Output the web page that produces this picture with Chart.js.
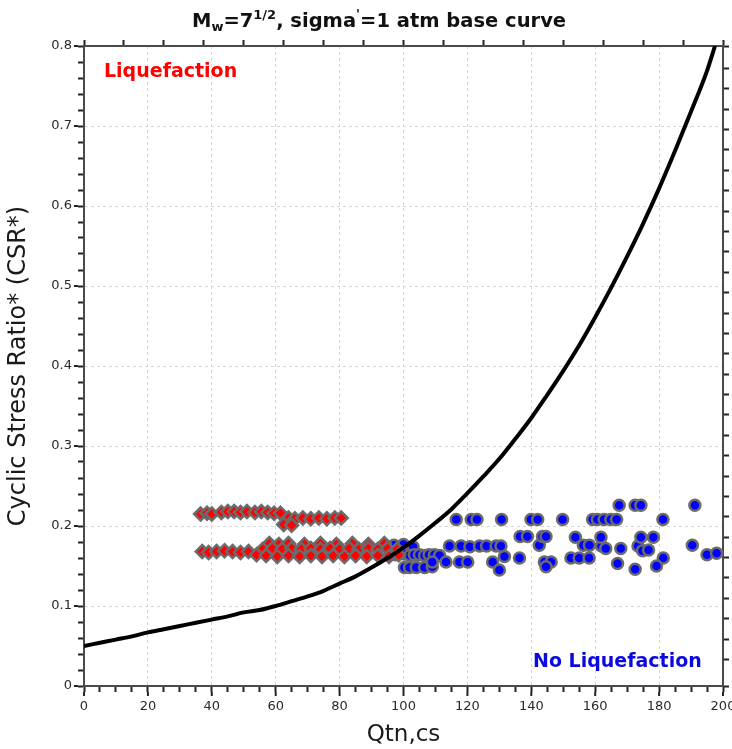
<!DOCTYPE html>
<html>
<head>
<meta charset="utf-8">
<script src="https://cdn.jsdelivr.net/npm/chart.js@4.4.1/dist/chart.umd.min.js"></script>
<style>
  body { margin: 0; background: #fff; }
  canvas { display: block; }
</style>
</head>
<body>
<canvas id="c" width="732" height="749"></canvas>
<script>
// base curve
const curveQ = [0, 5, 10, 15, 20, 25, 30, 35, 40, 45, 50, 55, 60, 65, 70, 75, 80, 85, 90, 95,
  100, 105, 110, 115, 120, 125, 130, 135, 140, 145, 150, 155, 160, 165, 170, 175, 180, 185, 190, 195, 197.5];
const curveCSR = [0.050, 0.054, 0.058, 0.062, 0.067, 0.071, 0.075, 0.079, 0.083, 0.087, 0.092, 0.095, 0.100, 0.106, 0.112, 0.119, 0.128, 0.137, 0.148, 0.160,
  0.173, 0.188, 0.204, 0.221, 0.241, 0.262, 0.284, 0.309, 0.335, 0.364, 0.394, 0.426, 0.461, 0.498, 0.537, 0.578, 0.622, 0.669, 0.718, 0.769, 0.800];

// liquefied cases (red diamonds)
const liqQ = [
  36.5, 38.5, 40, 43, 45, 47, 49, 51, 53.5, 55.5, 57.5, 59.5, 61.5,
  64, 66, 68.5, 71, 73.5, 76, 78.5, 80.5,
  62.5, 65,
  37, 39, 41.5, 44, 46.5, 49, 51.5,
  58, 61, 64, 69, 74, 79, 84, 89, 94,
  56, 59, 62, 65, 68, 71, 74, 77, 80, 83, 86, 89, 92, 95, 98,
  54, 57, 60.5, 64, 67.5, 71, 74.5, 78, 81.5, 85, 88.5, 92, 95.5, 98.5
];
const liqCSR = [
  0.215, 0.216, 0.215, 0.217, 0.218, 0.218, 0.217, 0.218, 0.217, 0.218, 0.217, 0.216, 0.216,
  0.210, 0.209, 0.210, 0.209, 0.210, 0.209, 0.210, 0.210,
  0.202, 0.201,
  0.168, 0.167, 0.168, 0.169, 0.168, 0.167, 0.168,
  0.178, 0.177, 0.178, 0.177, 0.178, 0.177, 0.178, 0.177, 0.178,
  0.171, 0.172, 0.171, 0.172, 0.171, 0.172, 0.171, 0.172, 0.171, 0.172, 0.171, 0.172, 0.171, 0.172, 0.171,
  0.164, 0.163, 0.162, 0.163, 0.162, 0.163, 0.162, 0.163, 0.162, 0.163, 0.162, 0.163, 0.162, 0.164
];

// non-liquefied cases (blue circles)
const noLiqQ = [
  97, 100, 103,
  97.5, 100.3, 102, 103.4, 105, 106.6, 108, 109.7, 111.3,
  100.3, 101.9, 104, 106.6, 109, 109, 113.3,
  116.5, 121.2, 123, 130.7, 139.9, 142, 149.8, 159.2, 160.7, 162.8, 164.9, 166.7, 181.2,
  167.5, 172.5, 174.3, 191.2,
  114.4, 118, 120.8, 123.8, 126, 129, 130.5, 142.5, 156.3, 158.2, 162, 173.4, 190.4,
  163.3, 168, 174.8, 176.7,
  136.5, 138.8, 143.5, 144.6, 153.8, 161.8, 174.3, 178.2,
  136.3, 152.4, 155, 158.1, 181.3, 195, 198, 131.6,
  117.5, 120.1, 127.9, 144.1, 146.2,
  144.6, 130, 167, 179.2, 172.5
];
const noLiqCSR = [
  0.176, 0.177, 0.174,
  0.164, 0.165, 0.163, 0.164, 0.164, 0.163, 0.164, 0.164, 0.163,
  0.148, 0.148, 0.148, 0.148, 0.149, 0.155, 0.155,
  0.208, 0.208, 0.208, 0.208, 0.208, 0.208, 0.208, 0.208, 0.208, 0.208, 0.208, 0.208, 0.208,
  0.226, 0.226, 0.226, 0.226,
  0.175, 0.175, 0.174, 0.175, 0.175, 0.175, 0.175, 0.176, 0.176, 0.176, 0.175, 0.175, 0.176,
  0.172, 0.172, 0.169, 0.170,
  0.187, 0.187, 0.187, 0.187, 0.186, 0.186, 0.186, 0.186,
  0.160, 0.160, 0.160, 0.160, 0.160, 0.164, 0.166, 0.162,
  0.155, 0.155, 0.155, 0.155, 0.155,
  0.149, 0.145, 0.153, 0.150, 0.146
];

const xMajorStep = 20;
const yMajorStep = 0.1;

const toPoints = (xs, ys) => xs.map((x, i) => ({ x: x, y: ys[i] }));
const isMajor = (v, step) => Math.abs(v / step - Math.round(v / step)) < 1e-6;

const GRID = '#d6d6d6';
const AXIS = '#4a4a4a';
const TICK = '#222';
const LABEL = '#2a2a2a';

// keep the plot box fixed: no extra room for the edge tick labels
const fixPad = s => { s.paddingLeft = 0; s.paddingRight = 0; s.paddingTop = 0; s.paddingBottom = 0; };

// title with sub/superscripts + the two region labels
const textPlugin = {
  id: 'textPlugin',
  afterDraw(chart) {
    const ctx = chart.ctx;
    const area = chart.chartArea;
    ctx.save();
    ctx.textBaseline = 'alphabetic';
    ctx.textAlign = 'left';

    // major tick extensions
    const xs = chart.scales.x, ys = chart.scales.y;
    ctx.strokeStyle = TICK;
    ctx.lineWidth = 2;
    xs.ticks.forEach(t => {
      if (!isMajor(t.value, xMajorStep)) return;
      const px = xs.getPixelForValue(t.value);
      ctx.beginPath(); ctx.moveTo(px, area.bottom + 6); ctx.lineTo(px, area.bottom + 10); ctx.stroke();
    });
    ys.ticks.forEach(t => {
      if (!isMajor(t.value, yMajorStep)) return;
      const py = ys.getPixelForValue(t.value);
      ctx.beginPath(); ctx.moveTo(area.left - 6, py); ctx.lineTo(area.left - 10, py); ctx.stroke();
    });

    const parts = [
      ['M', 19.5, 0], ['w', 13, 4], ['=7', 19.5, 0], ['1/2', 13, -8],
      [', sigma', 19.5, 0], ["'", 13, -9], ['=1 atm base curve', 19.5, 0]
    ];
    let x = 192;
    ctx.fillStyle = '#111';
    parts.forEach(p => {
      ctx.font = 'bold ' + p[1] + 'px "DejaVu Sans"';
      ctx.fillText(p[0], x, 27 + p[2]);
      x += ctx.measureText(p[0]).width;
    });

    ctx.font = 'bold 19px "DejaVu Sans"';
    ctx.fillStyle = '#ff0000';
    ctx.fillText('Liquefaction', area.left + 20, area.top + 31);
    ctx.fillStyle = '#0a0ae0';
    ctx.fillText('No Liquefaction', area.left + 449, area.bottom - 19);
    ctx.restore();
  }
};

new Chart(document.getElementById('c'), {
  type: 'scatter',
  data: {
    datasets: [
      {
        label: 'base curve',
        data: toPoints(curveQ, curveCSR),
        showLine: true,
        borderColor: '#000',
        borderWidth: 4,
        pointRadius: 0,
        cubicInterpolationMode: 'monotone',
        order: 0
      },
      {
        label: 'Liquefaction',
        data: toPoints(liqQ, liqCSR),
        pointStyle: 'rectRot',
        pointRadius: 6.5,
        backgroundColor: '#ff0000',
        borderColor: '#6b6b6b',
        borderWidth: 2.5,
        order: 1
      },
      {
        label: 'No Liquefaction',
        data: toPoints(noLiqQ, noLiqCSR),
        pointStyle: 'circle',
        pointRadius: 5.5,
        backgroundColor: '#0000ff',
        borderColor: '#6b6b6b',
        borderWidth: 2.5,
        order: 2
      }
    ]
  },
  options: {
    responsive: false,
    animation: false,
    devicePixelRatio: 1,
    layout: { padding: 0 },
    plugins: {
      legend: { display: false },
      tooltip: { enabled: false }
    },
    scales: {
      x: {
        type: 'linear',
        position: 'bottom',
        min: 0, max: 200,
        afterFit: s => { s.height = 63; fixPad(s); },
        border: { display: true, color: AXIS, width: 2, dash: [3, 3] },
        grid: {
          color: c => isMajor(c.tick.value, xMajorStep) && c.tick.value > 0 && c.tick.value < 200 ? GRID : 'rgba(0,0,0,0)',
          lineWidth: 1,
          tickColor: TICK, tickWidth: 2, tickLength: 6, tickBorderDash: []
        },
        ticks: {
          stepSize: 5, autoSkip: false, maxRotation: 0, padding: 7,
          color: LABEL, font: { family: 'DejaVu Sans', size: 13 },
          callback: v => isMajor(v, xMajorStep) ? String(v) : ''
        },
        title: {
          display: true, text: 'Qtn,cs', color: '#1a1a1a',
          font: { family: 'DejaVu Sans', size: 23 }, padding: { top: 0, bottom: 0 }
        }
      },
      x2: {
        type: 'linear',
        position: 'top',
        min: 0, max: 16,
        afterFit: s => { s.height = 46; fixPad(s); },
        border: { display: true, color: AXIS, width: 2 },
        grid: { drawOnChartArea: false, tickColor: TICK, tickWidth: 2, tickLength: 6 },
        ticks: { stepSize: 1, display: false }
      },
      y: {
        type: 'linear',
        position: 'left',
        min: 0, max: 0.8,
        afterFit: s => { s.width = 84; fixPad(s); },
        border: { display: true, color: AXIS, width: 2, dash: [3, 3] },
        grid: {
          color: c => isMajor(c.tick.value, yMajorStep) && c.tick.value > 0.001 && c.tick.value < 0.799 ? GRID : 'rgba(0,0,0,0)',
          lineWidth: 1,
          tickColor: TICK, tickWidth: 2, tickLength: 6, tickBorderDash: []
        },
        ticks: {
          stepSize: 0.02, autoSkip: false, padding: 6,
          color: LABEL, font: { family: 'DejaVu Sans', size: 13 },
          callback: v => isMajor(v, yMajorStep) ? (Math.abs(v) < 1e-9 ? '0' : v.toFixed(1)) : ''
        },
        title: {
          display: true, text: 'Cyclic Stress Ratio* (CSR*)', color: '#1a1a1a',
          font: { family: 'DejaVu Sans', size: 24 }, padding: { top: 4, bottom: 0 }
        }
      },
      y2: {
        type: 'linear',
        position: 'right',
        min: -0.3, max: 31.1,
        afterFit: s => { s.width = 8; fixPad(s); },
        border: { display: true, color: AXIS, width: 2 },
        grid: { drawOnChartArea: false, tickColor: TICK, tickWidth: 2, tickLength: 6 },
        ticks: { stepSize: 1, display: false }
      }
    }
  },
  plugins: [textPlugin]
});
</script>
</body>
</html>
